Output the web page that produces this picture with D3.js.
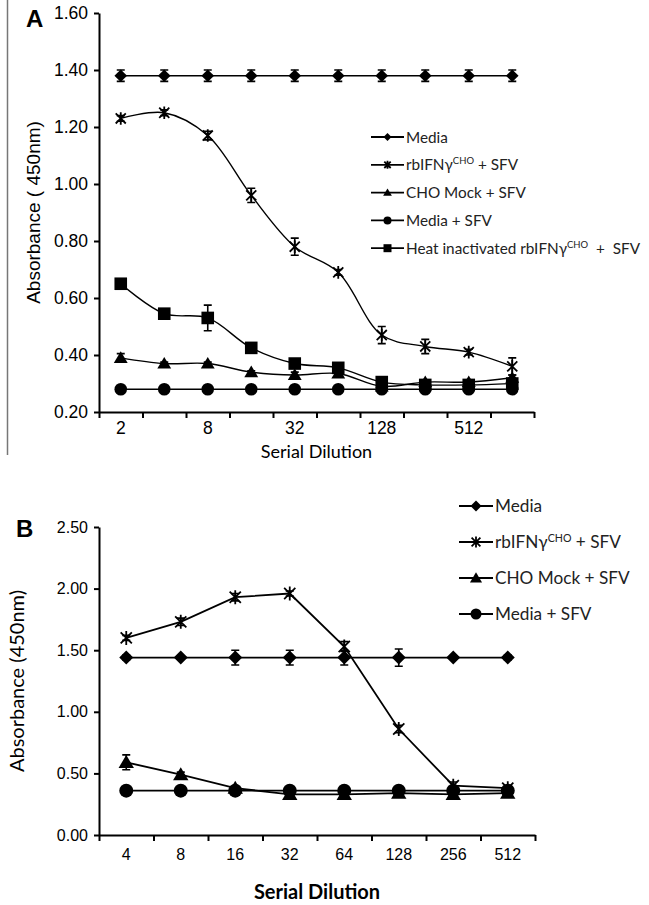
<!DOCTYPE html>
<html>
<head>
<meta charset="utf-8">
<script src="https://cdn.jsdelivr.net/npm/d3@7"></script>
<style>
  body { margin: 0; background: #fff; }
  svg { display: block; }
</style>
</head>
<body>
<script>
'use strict';

// ---- panel A data ----
let dilutionsA = ["2", "4", "8", "16", "32", "64", "128", "256", "512", "1024"];
let ticksA = [1.60, 1.40, 1.20, 1.00, 0.80, 0.60, 0.40, 0.20];
let mediaA = [1.38, 1.38, 1.38, 1.38, 1.38, 1.38, 1.38, 1.38, 1.38, 1.38];
let mediaAErr = [0.02, 0.02, 0.02, 0.02, 0.02, 0.02, 0.02, 0.02, 0.02, 0.02];
let rbA = [1.23, 1.25, 1.17, 0.96, 0.78, 0.69, 0.47, 0.43, 0.41, 0.36];
let rbAErr = [0.01, 0.01, 0.015, 0.025, 0.03, 0.01, 0.03, 0.025, 0.01, 0.03];
let choA = [0.39, 0.37, 0.37, 0.34, 0.33, 0.335, 0.29, 0.305, 0.305, 0.32];
let choAErr = [0.015, 0.005, 0.005, 0.005, 0.01, 0.005, 0.005, 0.005, 0.005, 0.01];
let mediaSfvA = [0.28, 0.28, 0.28, 0.28, 0.28, 0.28, 0.28, 0.28, 0.28, 0.28];
let mediaSfvAErr = [0.005, 0.005, 0.005, 0.005, 0.005, 0.005, 0.005, 0.005, 0.005, 0.005];
let heatA = [0.65, 0.545, 0.53, 0.425, 0.37, 0.355, 0.305, 0.295, 0.295, 0.30];
let heatAErr = [0.005, 0.01, 0.045, 0.005, 0.015, 0.005, 0.01, 0.005, 0.005, 0.005];

// ---- panel B data ----
let dilutionsB = ["4", "8", "16", "32", "64", "128", "256", "512"];
let ticksB = [2.50, 2.00, 1.50, 1.00, 0.50, 0.00];
let mediaB = [1.44, 1.44, 1.44, 1.44, 1.44, 1.44, 1.44, 1.44];
let mediaBErr = [0.02, 0.01, 0.06, 0.06, 0.06, 0.07, 0.01, 0.02];
let rbB = [1.60, 1.73, 1.93, 1.96, 1.53, 0.86, 0.40, 0.38];
let rbBErr = [0.02, 0.03, 0.03, 0.02, 0.04, 0.03, 0.03, 0.02];
let choB = [0.59, 0.49, 0.38, 0.33, 0.33, 0.34, 0.33, 0.34];
let choBErr = [0.06, 0.02, 0.01, 0.03, 0.03, 0.02, 0.02, 0.02];
let mediaSfvB = [0.36, 0.36, 0.36, 0.36, 0.36, 0.36, 0.36, 0.36];
let mediaSfvBErr = [0.01, 0.01, 0.01, 0.01, 0.01, 0.01, 0.01, 0.01];

// legend labels, [text, superscript?] parts
let labelMedia = [["Media", false]];
let labelRb = [["rbIFN\u03B3", false], ["CHO", true], [" + SFV", false]];
let labelCho = [["CHO Mock + SFV", false]];
let labelMediaSfv = [["Media + SFV", false]];
let labelHeat = [["Heat inactivated rbIFN\u03B3", false], ["CHO", true], ["  +  SFV", false]];

(function() {

  let svgContainer = "";
  let tickFont = "'Liberation Sans', Arial, sans-serif";
  let textFont = "Lato, 'Open Sans', sans-serif";

  window.onload = function() {
    svgContainer = d3.select('body')
      .append('svg')
      .attr('width', 649)
      .attr('height', 905);

    // thin grey rule at the left of panel A
    svgContainer.append('line')
      .attr('x1', 7.5).attr('x2', 7.5)
      .attr('y1', 0).attr('y2', 455)
      .attr('stroke', '#777')
      .attr('stroke-width', 1.5);

    makePanel({
      top: 13, bottom: 412, left: 99, right: 534,
      cats: dilutionsA, ticks: ticksA, domain: [0.20, 1.60],
      showLabel: (d, i) => i % 2 == 0,
      tickSize: 17.5, curve: d3.curveCatmullRom, lineWidth: 1.4, mk: 6.3,
      letter: "A", letterX: 26, letterY: 27, letterSize: 24,
      yTitle: "Absorbance ( 450nm)", yTitleX: 40, yTitleFont: tickFont, yTitleSize: 19,
      xTitle: "Serial Dilution", xTitleY: 458, xTitleSize: 18, xTitleWeight: 'normal',
      xLabelY: 22,
      series: [
        { v: mediaA, e: mediaAErr, m: 'diamond', label: labelMedia },
        { v: rbA, e: rbAErr, m: 'asterisk', label: labelRb },
        { v: choA, e: choAErr, m: 'triangle', label: labelCho },
        { v: mediaSfvA, e: mediaSfvAErr, m: 'circle', label: labelMediaSfv },
        { v: heatA, e: heatAErr, m: 'square', label: labelHeat }
      ],
      legend: { x: 371, y: 137, gap: 27.8, lineLen: 33, size: 15.3, mk: 4 }
    });

    makePanel({
      top: 527, bottom: 835, left: 99, right: 535,
      cats: dilutionsB, ticks: ticksB, domain: [0, 2.5],
      showLabel: () => true,
      tickSize: 16, curve: d3.curveLinear, lineWidth: 1.8, mk: 7,
      letter: "B", letterX: 16, letterY: 537, letterSize: 24,
      yTitle: "Absorbance (450nm)", yTitleX: 24, yTitleFont: textFont, yTitleSize: 20,
      xTitle: "Serial Dilution", xTitleY: 899, xTitleSize: 20, xTitleWeight: 'bold',
      xLabelY: 25,
      series: [
        { v: mediaB, e: mediaBErr, m: 'diamond', label: labelMedia },
        { v: rbB, e: rbBErr, m: 'asterisk', label: labelRb },
        { v: choB, e: choBErr, m: 'triangle', label: labelCho },
        { v: mediaSfvB, e: mediaSfvBErr, m: 'circle', label: labelMediaSfv }
      ],
      legend: { x: 459, y: 506, gap: 36, lineLen: 34, size: 17.2, mk: 5.5 }
    });
  }

  // path for a marker of type m and half-size s, centred at 0,0
  function markerPath(m, s) {
    if (m == 'diamond') return `M0,${-s}L${s},0L0,${s}L${-s},0Z`;
    if (m == 'square') return `M${-s},${-s}H${s}V${s}H${-s}Z`;
    if (m == 'triangle') return `M0,${-s * 1.05}L${s * 1.1},${s * 0.8}L${-s * 1.1},${s * 0.8}Z`;
    if (m == 'circle') return d3.symbol(d3.symbolCircle, Math.PI * s * s)();
    // asterisk: X plus vertical bar
    let k = s * 0.8;
    return `M${-k},${-k}L${k},${k}M${-k},${k}L${k},${-k}M0,${-s}V${s}`;
  }

  function drawMarker(g, m, x, y, s) {
    let p = g.append('path')
      .attr('d', markerPath(m, s))
      .attr('transform', `translate(${x},${y})`);
    if (m == 'asterisk') {
      p.attr('fill', 'none').attr('stroke', '#000').attr('stroke-width', 1.8);
    } else {
      p.attr('fill', '#000');
    }
  }

  function makePanel(cfg) {
    let g = svgContainer.append('g');

    // scales
    let xScale = d3.scaleBand().domain(cfg.cats).range([cfg.left, cfg.right]);
    let xIdx = d3.scaleLinear().domain([0, cfg.cats.length]).range([cfg.left, cfg.right]);
    let yScale = d3.scaleLinear().domain(cfg.domain).range([cfg.bottom, cfg.top]);
    let xMid = (d) => xScale(d) + xScale.bandwidth() / 2;

    // y axis
    let yAxis = d3.axisLeft(yScale)
      .tickValues(cfg.ticks)
      .tickFormat(d3.format('.2f'))
      .tickSize(5)
      .tickPadding(6)
      .tickSizeOuter(0);
    let ya = g.append('g')
      .attr('transform', `translate(${cfg.left}, 0)`)
      .call(yAxis);

    // x axis: tick marks between categories
    let xTicks = d3.axisBottom(xIdx)
      .tickValues(d3.range(cfg.cats.length + 1))
      .tickFormat('')
      .tickSize(6)
      .tickSizeOuter(0);
    let xa = g.append('g')
      .attr('transform', `translate(0, ${cfg.bottom})`)
      .call(xTicks);

    // x axis: category labels at band centres
    let xLabels = d3.axisBottom(xScale)
      .tickSize(0)
      .tickPadding(cfg.xLabelY - cfg.tickSize * 0.7)
      .tickFormat((d, i) => cfg.showLabel(d, i) ? d : "");
    let xl = g.append('g')
      .attr('transform', `translate(0, ${cfg.bottom})`)
      .call(xLabels);
    xl.select('.domain').remove();

    [ya, xa, xl].forEach((a) => {
      a.selectAll('path.domain').attr('stroke', '#000').attr('stroke-width', 2);
      a.selectAll('.tick line').attr('stroke', '#000').attr('stroke-width', 2);
      a.selectAll('text')
        .style('font-family', tickFont)
        .style('font-size', cfg.tickSize + 'px')
        .attr('fill', '#000');
    });

    // series
    let line = d3.line()
      .x((d, i) => xMid(cfg.cats[i]))
      .y((d) => yScale(d))
      .curve(cfg.curve);

    cfg.series.forEach((s) => {
      let sg = g.append('g');
      sg.append('path')
        .attr('d', line(s.v))
        .attr('fill', 'none')
        .attr('stroke', '#000')
        .attr('stroke-width', cfg.lineWidth);

      // error bars
      s.v.forEach((v, i) => {
        let x = xMid(cfg.cats[i]);
        let y1 = yScale(v - s.e[i]);
        let y2 = yScale(v + s.e[i]);
        sg.append('path')
          .attr('d', `M${x},${y1}V${y2}M${x - 4},${y1}H${x + 4}M${x - 4},${y2}H${x + 4}`)
          .attr('stroke', '#000')
          .attr('stroke-width', 1.6)
          .attr('fill', 'none');
      });

      s.v.forEach((v, i) => {
        drawMarker(sg, s.m, xMid(cfg.cats[i]), yScale(v), cfg.mk);
      });
    });

    // legend
    let lg = cfg.legend;
    cfg.series.forEach((s, i) => {
      let y = lg.y + i * lg.gap;
      g.append('line')
        .attr('x1', lg.x).attr('x2', lg.x + lg.lineLen)
        .attr('y1', y).attr('y2', y)
        .attr('stroke', '#000')
        .attr('stroke-width', 1.8);
      drawMarker(g, s.m, lg.x + lg.lineLen / 2, y, lg.mk);

      let t = g.append('text')
        .attr('x', lg.x + lg.lineLen + 2)
        .attr('y', y + lg.size * 0.36)
        .style('font-family', textFont)
        .style('font-size', lg.size + 'px')
        .style('white-space', 'pre')
        .attr('fill', '#222');
      s.label.forEach((part) => {
        let ts = t.append('tspan').text(part[0]);
        if (part[1]) {
          ts.attr('dy', -lg.size * 0.38).style('font-size', (lg.size * 0.62) + 'px');
        } else if (t.selectAll('tspan').size() > 1) {
          ts.attr('dy', lg.size * 0.38);
        }
      });
    });

    // panel letter
    g.append('text')
      .attr('x', cfg.letterX)
      .attr('y', cfg.letterY)
      .style('font-family', tickFont)
      .style('font-weight', 'bold')
      .style('font-size', cfg.letterSize + 'px')
      .text(cfg.letter);

    // axis titles
    g.append('text')
      .attr('transform', `translate(${cfg.yTitleX}, ${(cfg.top + cfg.bottom) / 2})rotate(-90)`)
      .attr('text-anchor', 'middle')
      .style('font-family', cfg.yTitleFont)
      .style('font-size', cfg.yTitleSize + 'px')
      .text(cfg.yTitle);

    g.append('text')
      .attr('x', (cfg.left + cfg.right) / 2)
      .attr('y', cfg.xTitleY)
      .attr('text-anchor', 'middle')
      .style('font-family', textFont)
      .style('font-weight', cfg.xTitleWeight)
      .style('font-size', cfg.xTitleSize + 'px')
      .text(cfg.xTitle);
  }

})();
</script>
</body>
</html>
